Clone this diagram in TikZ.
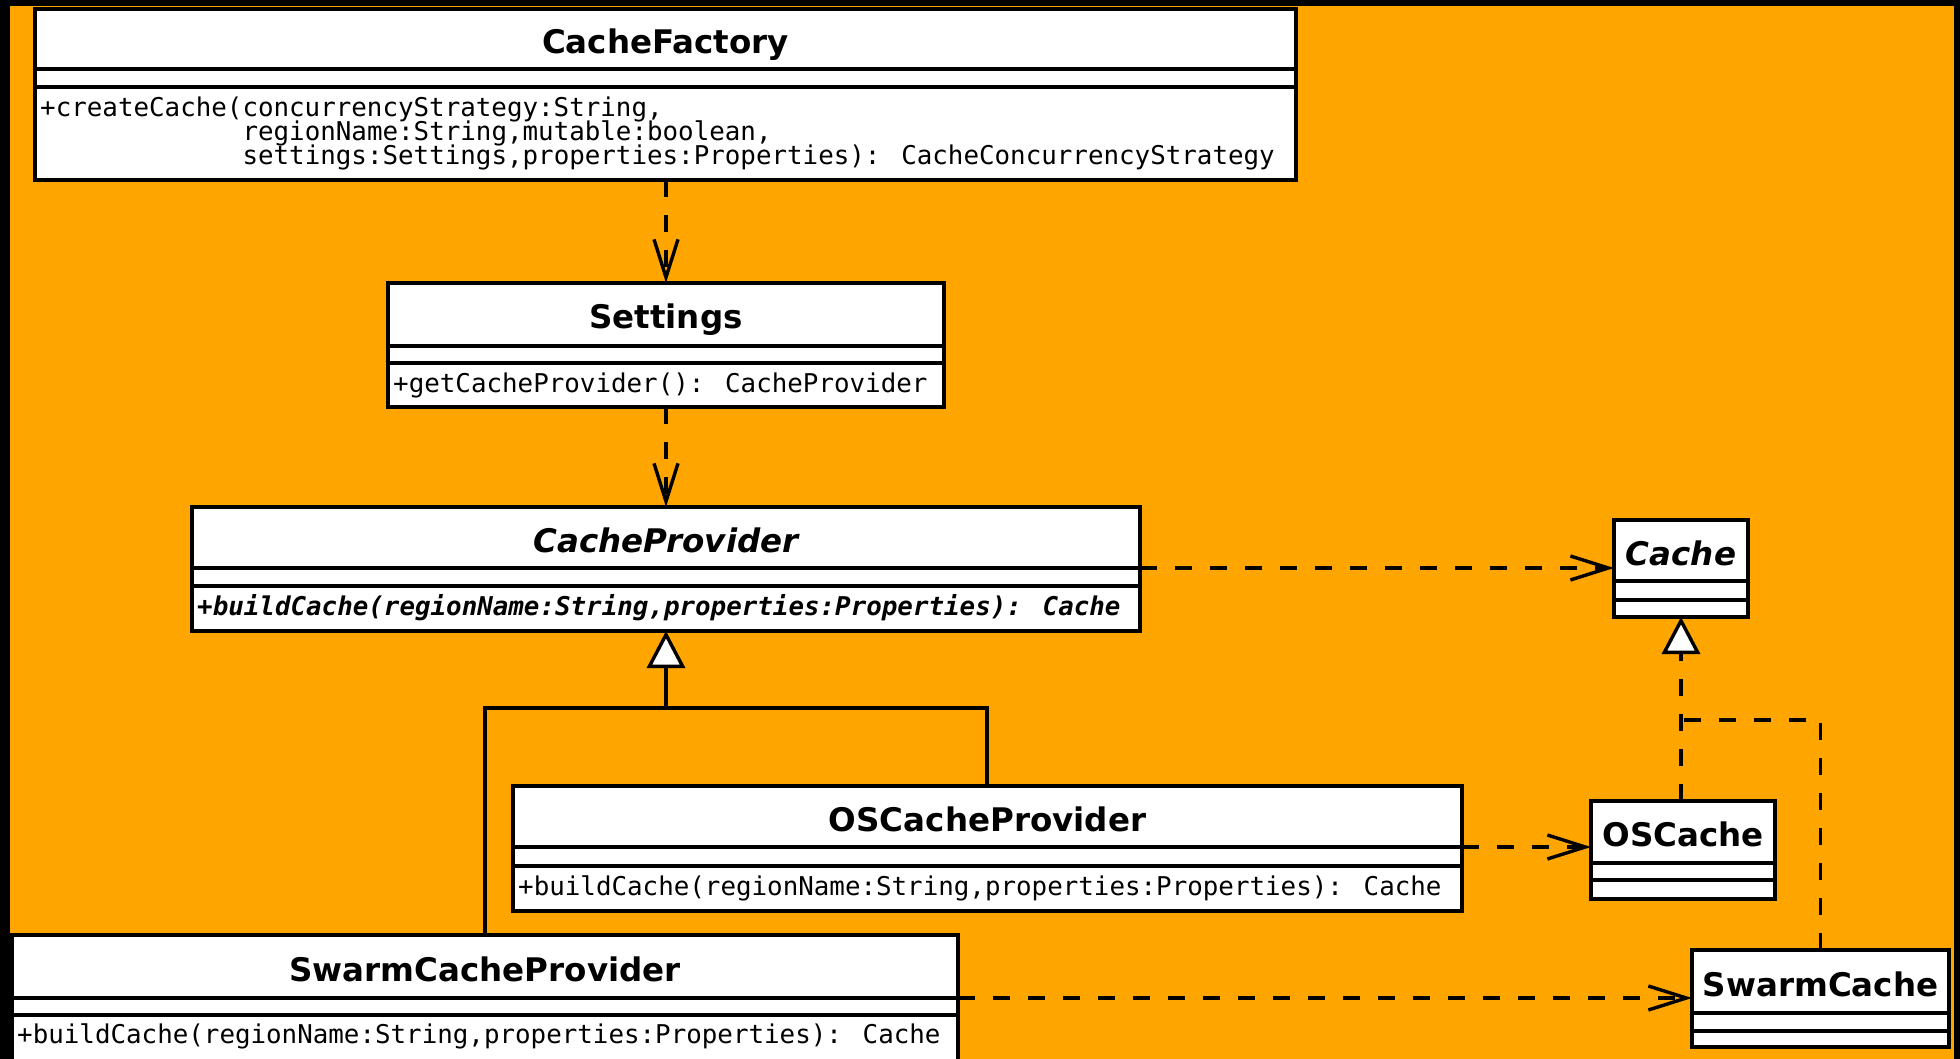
\documentclass[tikz,border=0pt]{standalone}
\usepackage{fontspec}
\usetikzlibrary{arrows.meta}
\newfontfamily\umlsans{DejaVu Sans}[BoldFont={DejaVu Sans Bold},BoldItalicFont={DejaVu Sans Bold Oblique}]
\newfontfamily\umlmono{DejaVu Sans Mono}[BoldItalicFont={DejaVu Sans Mono Bold Oblique}]
\definecolor{bgorange}{HTML}{FFA500}
\tikzset{
  umlbox/.style={rectangle, draw=black, fill=white, line width=3.5pt, inner sep=0pt, outer sep=0pt, anchor=north west},
  compline/.style={line width=3.5pt},
  titlefont/.style={font=\umlsans\bfseries\fontsize{32.5}{39}\selectfont, inner sep=0pt, anchor=base},
  titleital/.style={font=\umlsans\bfseries\itshape\fontsize{32.5}{39}\selectfont, inner sep=0pt, anchor=base},
  methfont/.style={font=\umlmono\fontsize{25.85}{24}\selectfont, inner sep=0pt, anchor=base west},
  methital/.style={font=\umlmono\bfseries\itshape\fontsize{25.85}{24}\selectfont, inner sep=0pt, anchor=base west},
  deparrow/.style={line width=3.4pt, dash pattern=on 17pt off 18pt, -{Straight Barb[length=38pt,width=24pt]}},
  genline/.style={line width=3.4pt},
  genarrow/.style={line width=3.4pt, -{Triangle[fill=white,length=37pt,width=38pt]}},
  realline/.style={line width=3.4pt, dash pattern=on 17pt off 18pt},
  realarrow/.style={line width=3.4pt, dash pattern=on 17pt off 18pt, -{Triangle[fill=white,length=37pt,width=38pt]}}
}
\newcommand\umlclass[7]{%
  \node[umlbox, minimum width={#4-#2}, minimum height={#5-#3}] (#1) at (#2,#3) {};
  \coordinate (#1-h) at (#2,#6);
  \coordinate (#1-a) at (#2,#7);
  \draw[compline] (#1-h) -- (#1-h -| #1.east);
  \draw[compline] (#1-a) -- (#1-a -| #1.east);
}
\begin{document}
\begin{tikzpicture}[x=1pt,y=-1pt]
\useasboundingbox (0,0) rectangle (1960,1059);
\fill[black] (0,0) rectangle (1960,1059);
\fill[bgorange] (10,6) rectangle (1954,1059);

% classes: name, x1, y1, x2, y2, header line, attribute line
\umlclass{cf}{35}{9}{1296}{180}{69}{87}
\umlclass{set}{388}{283}{944}{407}{346}{363}
\umlclass{cp}{192}{507}{1140}{631}{568}{586}
\umlclass{cache}{1614}{520}{1748}{617}{581}{600}
\umlclass{ocp}{513}{786}{1462}{911}{847}{866}
\umlclass{oc}{1591}{801}{1775}{899}{863}{880}
\umlclass{scp}{12}{935}{958}{1075}{998}{1015}
\umlclass{sc}{1692}{950}{1949}{1047}{1013}{1031}

% titles
\node[titlefont] (cf-t) at (665.5,53.5) {CacheFactory};
\node[titlefont] (set-t) at (666,329) {Settings};
\node[titleital] (cp-t) at (666,552) {CacheProvider};
\node[titleital] (cache-t) at (1681,565) {Cache};
\node[titlefont] (ocp-t) at (987.5,831) {OSCacheProvider};
\node[titlefont] (oc-t) at (1683,846) {OSCache};
\node[titlefont] (scp-t) at (485,981) {SwarmCacheProvider};
\node[titlefont] (sc-t) at (1820.5,996) {SwarmCache};

% operations
\node[methfont] (cf-m1) at (40,117) {+createCache(concurrencyStrategy:String,};
\node[methfont] (cf-m2) at (40,140.75) {\phantom{+createCache(}regionName:String,mutable:boolean,};
\node[methfont] (cf-m3) at (40,164.5) {\phantom{+createCache(}settings:Settings,properties:Properties): CacheConcurrencyStrategy};
\node[methfont] (set-m) at (393,392) {+getCacheProvider(): CacheProvider};
\node[methital] (cp-m) at (197,615.5) {+buildCache(regionName:String,properties:Properties): Cache};
\node[methfont] (ocp-m) at (518,895) {+buildCache(regionName:String,properties:Properties): Cache};
\node[methfont] (scp-m) at (17,1043) {+buildCache(regionName:String,properties:Properties): Cache};

% dependencies
\draw[deparrow] (set.north |- cf.south) -- (set.north);
\draw[deparrow] (cp.north |- set.south) -- (cp.north);
\draw[deparrow] (cp-h -| cp.east) -- (cp-h -| cache.west);
\draw[deparrow] (ocp-h -| ocp.east) -- (ocp-h -| oc.west);
\draw[deparrow] (scp-h -| scp.east) -- (scp-h -| sc.west);

% generalization
\coordinate (gy) at (0,708);
\coordinate (gR) at (987,708);
\coordinate (gL) at (485,708);
\draw[genarrow] (gR |- ocp.north) -- (gR) -- (cp.south |- gy) -- (cp.south);
\draw[genline] (gL |- scp.north) -- (gL) -- (cp.south |- gy);

% realization
\coordinate (ry) at (0,720);
\draw[realarrow] (cache.south |- oc.north) -- (cache.south);
\draw[realline] (sc.north) -- (sc.north |- ry) -- (cache.south |- ry);
\end{tikzpicture}
\end{document}
